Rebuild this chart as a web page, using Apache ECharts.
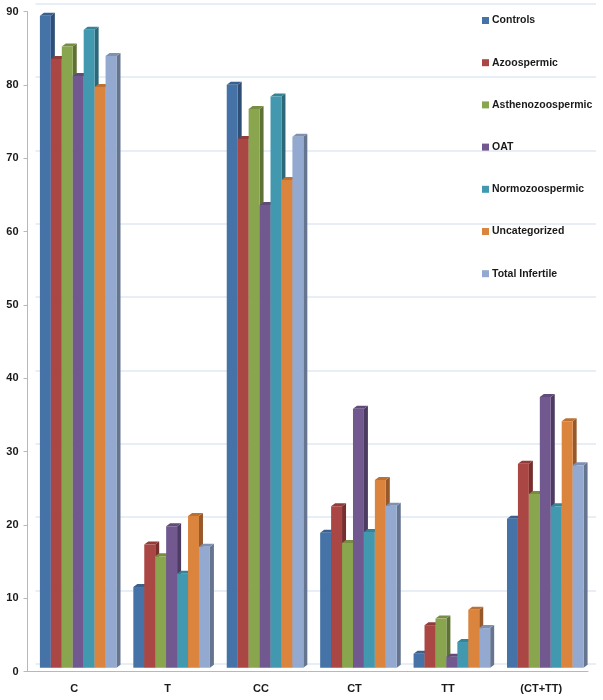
<!DOCTYPE html>
<html><head><meta charset="utf-8">
<script src="https://cdn.jsdelivr.net/npm/echarts@6/dist/echarts.min.js"></script>
<style>html,body{margin:0;padding:0;background:#fff}#c{width:603px;height:700px}</style>
</head><body><div id="c"></div>
<script>
var categories = ['C', 'T', 'CC', 'CT', 'TT', '(CT+TT)'];
var seriesNames = ['Controls', 'Azoospermic', 'Asthenozoospermic', 'OAT', 'Normozoospermic', 'Uncategorized', 'Total Infertile'];
var controls = [88.9, 11.0, 79.5, 18.4, 1.9, 20.3];
var azoospermic = [83.0, 16.8, 72.1, 22.0, 5.8, 27.8];
var asthenozoospermic = [84.7, 15.2, 76.2, 17.0, 6.7, 23.7];
var oat = [80.7, 19.3, 63.1, 35.3, 1.5, 36.9];
var normozoospermic = [87.0, 12.8, 77.9, 18.5, 3.5, 22.0];
var uncategorized = [79.2, 20.7, 66.5, 25.6, 7.9, 33.6];
var totalInfertile = [83.4, 16.5, 72.4, 22.1, 5.4, 27.6];
var yTicks = [0, 10, 20, 30, 40, 50, 60, 70, 80, 90];

var allValues = [controls, azoospermic, asthenozoospermic, oat, normozoospermic, uncategorized, totalInfertile];
var colors = ['#4572A7', '#AA4643', '#89A54E', '#71588F', '#4198AF', '#DB843D', '#93A9CF'];
var sideColors = ['#2F4F77', '#762F2D', '#5E7235', '#4D3C62', '#2C6878', '#97592A', '#66758F'];
var topColors = ['#3A6090', '#933B39', '#768D42', '#614B7A', '#378396', '#BC7134', '#7E91B2'];

var chart = echarts.init(document.getElementById('c'), null, {renderer: 'canvas'});
var N = seriesNames.length;
function makeRender(i) {
  return function (params, api) {
    var cat = api.value(0), v = api.value(1);
    var p0 = api.coord([cat, 0]);
    var p1 = api.coord([cat, v]);
    var band = api.size([1, 0])[0];
    var gw = band * 0.82;
    var bw = gw / N;
    var x = p0[0] - gw / 2 + i * bw + 4;
    var bottom = p0[1] - 4;
    var top = p1[1] - 4;
    var dx = 4, dy = 3;
    return {
      type: 'group',
      children: [
        {type: 'polygon', shape: {points: [[x + bw, top], [x + bw + dx, top - dy], [x + bw + dx, bottom - dy], [x + bw, bottom]]}, style: {fill: sideColors[i]}},
        {type: 'polygon', shape: {points: [[x, top], [x + dx, top - dy], [x + bw + dx, top - dy], [x + bw, top]]}, style: {fill: topColors[i]}},
        {type: 'rect', shape: {x: x, y: top, width: bw, height: bottom - top}, style: {fill: colors[i]}}
      ]
    };
  };
}
var series = seriesNames.map(function (name, i) {
  return {
    name: name, type: 'custom', xAxisIndex: 0, yAxisIndex: 0,
    renderItem: makeRender(i),
    itemStyle: {color: colors[i]},
    encode: {x: 0, y: 1},
    data: categories.map(function (c, k) { return [k, allValues[i][k]]; }),
    z: 5
  };
});
chart.setOption({
  animation: false,
  backgroundColor: '#fff',
  color: colors,
  grid: [
    {left: 27.5, right: 15, top: 11.7, bottom: 28.3, containLabel: false},
    {left: 35.5, right: 7, top: 3.7, bottom: 36.3, containLabel: false}
  ],
  legend: {
    orient: 'vertical', left: 477, top: 10, itemWidth: 7, itemHeight: 7, itemGap: 31.2, icon: 'rect',
    textStyle: {fontFamily: 'Liberation Sans', fontWeight: 'bold', fontSize: 10.5, color: '#1a1a1a', padding: [0, 0, 0, -2]},
    data: seriesNames
  },
  xAxis: [
    {type: 'category', gridIndex: 0, data: categories,
     axisLine: {lineStyle: {color: '#b8b8b8'}}, axisTick: {length: 6, lineStyle: {color: '#b8b8b8'}},
     axisLabel: {fontFamily: 'Liberation Sans', fontWeight: 'bold', fontSize: 11, color: '#1a1a1a', margin: 12}},
    {type: 'category', gridIndex: 1, data: categories, show: false}
  ],
  yAxis: [
    {type: 'value', gridIndex: 0, min: 0, max: 90, interval: 10,
     axisLine: {show: true, lineStyle: {color: '#b8b8b8'}}, axisTick: {show: true, length: 4, lineStyle: {color: '#b8b8b8'}},
     splitLine: {show: false},
     axisLabel: {fontFamily: 'Liberation Sans', fontWeight: 'bold', fontSize: 11, color: '#1a1a1a', margin: 9,
       formatter: function (v) { return yTicks.indexOf(v) >= 0 ? String(v) : ''; }}},
    {type: 'value', gridIndex: 1, min: 0, max: 90, interval: 10,
     axisLine: {show: false}, axisTick: {show: false}, axisLabel: {show: false},
     splitLine: {show: true, lineStyle: {color: '#e1e8f2', width: 1.5}}}
  ],
  series: series
});
</script></body></html>
